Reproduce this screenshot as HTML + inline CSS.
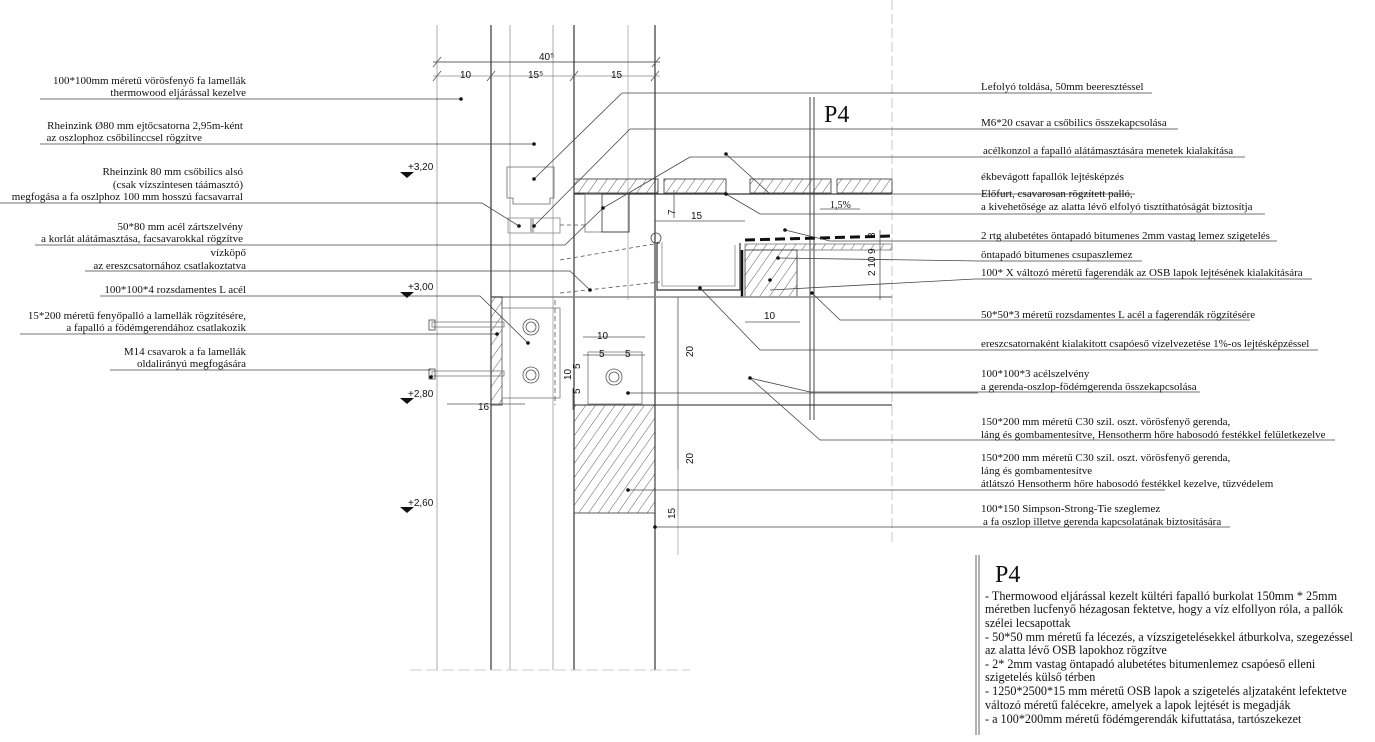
<!DOCTYPE html>
<html><head><meta charset="utf-8"><style>
html,body{margin:0;padding:0;background:#fff}
svg{display:block}
text{font-family:"Liberation Serif",serif;font-size:11px;fill:#111}
.s{font-family:"Liberation Sans",sans-serif;font-size:10px}
.p{font-size:12.2px}
</style></head><body>
<svg width="1375" height="742" viewBox="0 0 1375 742" xmlns="http://www.w3.org/2000/svg">
<defs>
<pattern id="h" width="8" height="8" patternUnits="userSpaceOnUse" patternTransform="rotate(35)">
<line x1="0" y1="0" x2="0" y2="8" stroke="#333" stroke-width="0.8"/></pattern>
</defs>
<g stroke="#555" stroke-width="0.8" fill="none">
<line x1="437" y1="25" x2="437" y2="670" stroke="#999"/>
<line x1="491" y1="25" x2="491" y2="670" stroke="#222" stroke-width="1.1"/>
<line x1="510" y1="25" x2="510" y2="670" stroke="#999"/>
<line x1="553" y1="25" x2="553" y2="670" stroke="#999"/>
<line x1="574" y1="25" x2="574" y2="670" stroke="#222" stroke-width="1.1"/>
<line x1="628" y1="25" x2="628" y2="300" stroke="#aaa"/>
<line x1="655" y1="25" x2="655" y2="670" stroke="#222" stroke-width="1.1"/>
<line x1="892" y1="0" x2="892" y2="545" stroke="#bbb" stroke-dasharray="10,4"/>
<line x1="410" y1="670" x2="690" y2="670" stroke="#bbb" stroke-dasharray="12,4"/>
<line x1="433" y1="62" x2="660" y2="62" stroke="#333"/>
<line x1="433" y1="76" x2="660" y2="76" stroke="#888"/>
<line x1="433" y1="67" x2="441" y2="57"/><line x1="652" y1="67" x2="660" y2="57"/>
<line x1="433" y1="81" x2="441" y2="71"/><line x1="487" y1="81" x2="495" y2="71"/><line x1="570" y1="81" x2="578" y2="71"/><line x1="651" y1="81" x2="659" y2="71"/>
<line x1="810" y1="97" x2="810" y2="420" stroke="#666" stroke-width="1.2"/>
<line x1="814" y1="97" x2="814" y2="420" stroke="#666" stroke-width="1.2"/>
<rect x="574" y="179" width="84" height="14" fill="url(#h)" stroke="#333"/>
<rect x="664" y="179" width="62" height="14" fill="url(#h)" stroke="#333"/>
<rect x="750" y="179" width="81" height="14" fill="url(#h)" stroke="#333"/>
<rect x="837" y="179" width="55" height="14" fill="url(#h)" stroke="#333"/>
<line x1="574" y1="194" x2="892" y2="194" stroke="#333" stroke-width="1.3"/>
<path d="M507 167 H554 V198 H550 V204 H513 V198 H507 Z" stroke="#666"/>
<rect x="508" y="218" width="52" height="15" stroke="#888"/>
<rect x="530" y="218" width="4" height="15" fill="#bbb" stroke="none"/>
<line x1="560" y1="225" x2="585" y2="225" stroke-dasharray="4,3"/>
<rect x="585" y="194" width="44" height="38" stroke="#777"/>
<rect x="602" y="194" width="27" height="38" stroke="#333"/>
<line x1="560" y1="260" x2="660" y2="243" stroke-dasharray="4,3"/>
<line x1="560" y1="293" x2="660" y2="282" stroke-dasharray="4,3"/>
<path d="M657 242 V290 H740 V243" stroke="#333" stroke-width="1.2"/>
<path d="M662 242 V286 H735 V245" stroke="#888"/>
<circle cx="656" cy="238" r="5" stroke="#444"/>
<path d="M745 240 L892 236" stroke="#111" stroke-width="3" stroke-dasharray="10,5"/>
<rect x="745" y="244" width="147" height="6" fill="url(#h)" stroke="#777"/>
<rect x="745" y="250" width="52" height="47" fill="url(#h)" stroke="#333"/>
<line x1="742" y1="250" x2="742" y2="297" stroke="#111" stroke-width="2.5"/>
<line x1="491" y1="297" x2="892" y2="297" stroke="#888" stroke-width="1.5"/>
<line x1="574" y1="405" x2="892" y2="405" stroke="#222" stroke-width="1.1"/>
<rect x="491" y="297" width="11" height="108" fill="url(#h)" stroke="#333"/>
<rect x="502" y="308" width="58" height="90" stroke="#777"/>
<line x1="555" y1="300" x2="555" y2="405" stroke-dasharray="5,3"/>
<circle cx="531" cy="327" r="8"/><circle cx="531" cy="327" r="5"/>
<circle cx="531" cy="375" r="8"/><circle cx="531" cy="375" r="5"/>
<rect x="432" y="322" width="72" height="5" stroke="#777"/>
<rect x="432" y="371" width="72" height="5" stroke="#777"/>
<rect x="429" y="320" width="6" height="10" stroke="#444"/>
<rect x="429" y="369" width="6" height="10" stroke="#444"/>
<rect x="588" y="352" width="54" height="52" stroke="#777"/>
<circle cx="614" cy="377" r="8"/><circle cx="614" cy="377" r="5"/>
<rect x="574" y="405" width="81" height="108" fill="url(#h)" stroke="#333"/>
<line x1="583" y1="337" x2="645" y2="337"/><line x1="583" y1="355" x2="645" y2="355"/>
<line x1="745" y1="322" x2="800" y2="322"/>
<line x1="447" y1="404" x2="525" y2="404"/>
<line x1="573" y1="388" x2="573" y2="410"/>
<line x1="678" y1="297" x2="678" y2="515"/>
<line x1="678" y1="470" x2="678" y2="555" stroke="#aaa"/>
<line x1="674" y1="218" x2="674" y2="190"/>
<line x1="655" y1="221" x2="745" y2="221"/>
<line x1="880" y1="230" x2="880" y2="300"/>
<line x1="820" y1="209" x2="860" y2="209"/>
<g stroke="#444">
<line x1="40" y1="99" x2="461" y2="99"/>
<line x1="40" y1="144" x2="534" y2="144"/>
<polyline points="0,203 482,203 519,226"/>
<polyline points="35,245 565,245 603,208"/>
<polyline points="85,271 570,271 590,290"/>
<polyline points="100,296 480,296 528,343"/>
<line x1="20" y1="334" x2="497" y2="334"/>
<line x1="110" y1="370" x2="431" y2="370"/>
<polyline points="534,179 622,93 1152,93"/>
<polyline points="534,226 630,129 1178,129"/>
<polyline points="603,208 690,157 1245,157"/>
<polyline points="726,154 770,194 1135,194"/>
<polyline points="726,194 760,214 1265,214"/>
<polyline points="785,230 830,241 1277,241"/>
<polyline points="778,258 980,261 1142,261"/>
<polyline points="770,290 975,279 1312,279"/>
<polyline points="812,293 840,320 1250,320"/>
<polyline points="700,288 760,350 1318,350"/>
<polyline points="750,378 810,392 1200,392"/>
<polyline points="750,378 820,440 1335,440"/>
<line x1="628" y1="490" x2="1165" y2="490"/>
<line x1="655" y1="527" x2="1230" y2="527"/>
<line x1="628" y1="393" x2="978" y2="393"/>
</g>
<line x1="976" y1="555" x2="976" y2="735" stroke="#888" stroke-width="1.3"/>
<line x1="979" y1="555" x2="979" y2="735" stroke="#888" stroke-width="1.3"/>
</g>
<g fill="#111">
<circle cx="461" cy="99" r="1.8"/><circle cx="534" cy="144" r="1.8"/><circle cx="519" cy="226" r="1.8"/><circle cx="534" cy="179" r="1.8"/><circle cx="534" cy="226" r="1.8"/><circle cx="603" cy="208" r="1.8"/><circle cx="590" cy="290" r="1.8"/><circle cx="528" cy="343" r="1.8"/><circle cx="497" cy="334" r="1.8"/><circle cx="431" cy="377" r="1.8"/><circle cx="726" cy="154" r="1.8"/><circle cx="726" cy="194" r="1.8"/><circle cx="785" cy="230" r="1.8"/><circle cx="778" cy="258" r="1.8"/><circle cx="770" cy="280" r="1.8"/><circle cx="812" cy="293" r="1.8"/><circle cx="700" cy="288" r="1.8"/><circle cx="750" cy="378" r="1.8"/><circle cx="628" cy="490" r="1.8"/><circle cx="655" cy="527" r="1.8"/><circle cx="628" cy="393" r="1.8"/>
<path d="M400 172 h14 l-7 6z"/><path d="M400 292 h14 l-7 6z"/><path d="M400 398 h14 l-7 6z"/><path d="M400 507 h14 l-7 6z"/>
</g>
<text class="s" x="408" y="170">+3,20</text><text class="s" x="408" y="290">+3,00</text><text class="s" x="408" y="397">+2,80</text><text class="s" x="408" y="506">+2,60</text>
<text class="s" x="539" y="60">40⁵</text><text class="s" x="460" y="78">10</text><text class="s" x="528" y="78">15⁵</text><text class="s" x="611" y="78">15</text>
<text class="s" x="691" y="219">15</text><text class="s" x="597" y="339">10</text>
<text class="s" x="599" y="357">5</text><text class="s" x="625" y="357">5</text>
<text class="s" x="764" y="319">10</text><text class="s" x="478" y="410">16</text>
<text x="830" y="208" style="font-size:10px">1,5%</text>
<text class="s" transform="translate(693,357) rotate(-90)">20</text>
<text class="s" transform="translate(693,464) rotate(-90)">20</text>
<text class="s" transform="translate(675,519) rotate(-90)">15</text>
<text class="s" transform="translate(571,380) rotate(-90)">10</text>
<text class="s" transform="translate(580,369) rotate(-90)">5</text>
<text class="s" transform="translate(580,394) rotate(-90)">5</text>
<text class="s" transform="translate(675,215) rotate(-90)">7</text>
<text class="s" transform="translate(875,238) rotate(-90)">3</text>
<text class="s" transform="translate(875,254) rotate(-90)">9</text>
<text class="s" transform="translate(875,276) rotate(-90)">2 10</text>
<text x="824" y="122" style="font-size:24px">P4</text>
<g text-anchor="end">
<text x="246" y="84">100*100mm méretű vörösfenyő fa lamellák</text>
<text x="246" y="96">thermowood eljárással kezelve</text>
<text x="243" y="129">Rheinzink Ø80 mm ejtőcsatorna 2,95m-ként</text>
<text x="202" y="141">az oszlophoz csőbilinccsel rögzítve</text>
<text x="243" y="175">Rheinzink 80 mm csőbilics alsó</text>
<text x="243" y="188">(csak vízszintesen táámasztó)</text>
<text x="243" y="200">megfogása a fa oszlphoz 100 mm hosszú facsavarral</text>
<text x="243" y="230">50*80 mm acél zártszelvény</text>
<text x="243" y="242">a korlát alátámasztása, facsavarokkal rögzítve</text>
<text x="246" y="256">vízköpő</text>
<text x="246" y="269">az ereszcsatornához csatlakoztatva</text>
<text x="246" y="293">100*100*4 rozsdamentes L acél</text>
<text x="246" y="319">15*200 méretű fenyőpalló a lamellák rögzítésére,</text>
<text x="246" y="331">a fapalló a födémgerendához csatlakozik</text>
<text x="246" y="355">M14 csavarok a fa lamellák</text>
<text x="246" y="367">oldalirányú megfogására</text>
</g>
<g>
<text x="981" y="90">Lefolyó toldása, 50mm beeresztéssel</text>
<text x="981" y="126">M6*20 csavar  a csőbilics összekapcsolása</text>
<text x="983" y="154">acélkonzol a fapalló alátámasztására menetek kialakítása</text>
<text x="981" y="180">ékbevágott fapallók lejtésképzés</text>
<text x="981" y="197">Előfurt, csavarosan rögzített palló,</text>
<text x="981" y="210">a kivehetősége az alatta lévő elfolyó tisztíthatóságát biztosítja</text>
<text x="981" y="239">2 rtg alubetétes öntapadó bitumenes 2mm vastag lemez szigetelés</text>
<text x="981" y="258">öntapadó bitumenes csupaszlemez</text>
<text x="981" y="276">100* X változó méretű fagerendák az OSB lapok lejtésének kialakítására</text>
<text x="981" y="318">50*50*3 méretű rozsdamentes L acél a fagerendák rögzítésére</text>
<text x="981" y="347">ereszcsatornaként kialakított csapóeső vízelvezetése 1%-os lejtésképzéssel</text>
<text x="981" y="377">100*100*3 acélszelvény</text>
<text x="981" y="390">a gerenda-oszlop-födémgerenda összekapcsolása</text>
<text x="981" y="425">150*200 mm méretű C30 szil. oszt. vörösfenyő gerenda,</text>
<text x="981" y="438">láng és gombamentesítve, Hensotherm hőre habosodó festékkel felületkezelve</text>
<text x="981" y="461">150*200 mm méretű C30 szil. oszt. vörösfenyő gerenda,</text>
<text x="981" y="474">láng és gombamentesítve</text>
<text x="981" y="487">átlátszó Hensotherm hőre habosodó festékkel kezelve, tűzvédelem</text>
<text x="981" y="512">100*150 Simpson-Strong-Tie szeglemez</text>
<text x="983" y="525">a fa oszlop illetve gerenda kapcsolatának biztosítására</text>
</g>
<text x="995" y="582" style="font-size:24px">P4</text>
<text class="p" x="985" y="600">- Thermowood eljárással kezelt kültéri fapalló burkolat 150mm * 25mm</text>
<text class="p" x="985" y="613">méretben lucfenyő hézagosan fektetve, hogy a víz elfollyon róla, a pallók</text>
<text class="p" x="985" y="627">szélei lecsapottak</text>
<text class="p" x="985" y="641">- 50*50 mm méretű fa lécezés, a vízszigetelésekkel átburkolva, szegezéssel</text>
<text class="p" x="985" y="654">az alatta lévő OSB lapokhoz rögzítve</text>
<text class="p" x="985" y="668">- 2* 2mm vastag öntapadó alubetétes bitumenlemez csapóeső elleni</text>
<text class="p" x="985" y="681">szigetelés külső térben</text>
<text class="p" x="985" y="695">- 1250*2500*15 mm méretű OSB lapok a szigetelés aljzataként lefektetve</text>
<text class="p" x="985" y="709">változó méretű falécekre, amelyek a lapok lejtését is megadják</text>
<text class="p" x="985" y="723">- a 100*200mm méretű födémgerendák kifuttatása, tartószekezet</text>
</svg>
</body></html>
